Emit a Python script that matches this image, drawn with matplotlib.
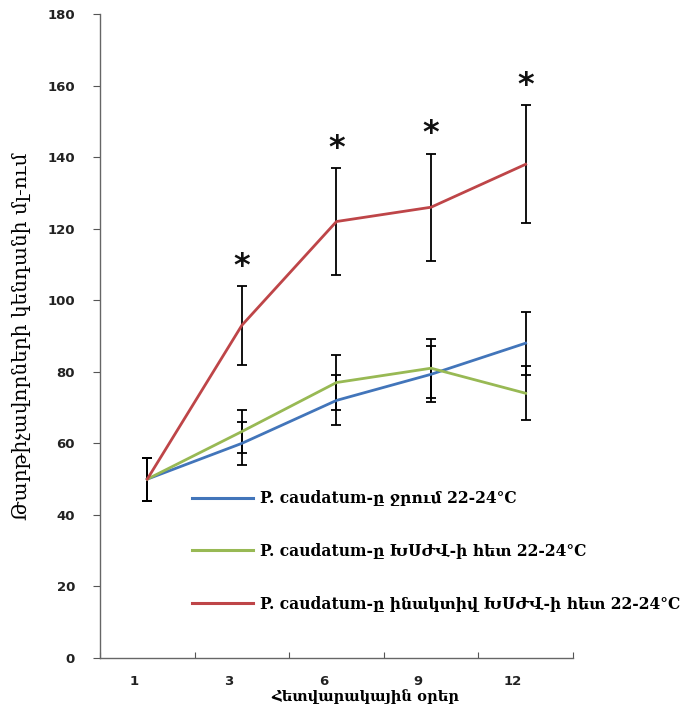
import numpy as np
import matplotlib.pyplot as plt
from matplotlib.lines import Line2D
from matplotlib.transforms import ScaledTranslation

days = ['1', '3', '6', '9', '12']

water = [50, 60, 72, 79.3, 88]
water_err = [6, 6, 7, 7.8, 8.8]

vip = [50, 63.3, 77, 81, 74]
vip_err = [6, 6, 7.8, 8.3, 7.5]

inact = [50, 93, 122, 126, 138]
inact_err = [6, 11, 15, 15, 16.5]

star_days = [1, 2, 3, 4]

labels = ['P. caudatum-ը ջրում 22-24°C',
          'P. caudatum-ը ԽՍԺՎ-ի հետ 22-24°C',
          'P. caudatum-ը ինակտիվ ԽՍԺՎ-ի հետ 22-24°C']
colors = ['#4275ba', '#98b954', '#be4548']

fig = plt.figure(figsize=(6.82, 7.15), dpi=100)
ax = fig.add_axes([0.1466, 0.0797, 0.6935, 0.9007])

x = np.arange(len(days))
series = [(water, water_err), (vip, vip_err), (inact, inact_err)]
handles = []
for (y, e), c, lab in zip(series, colors, labels):
    ax.errorbar(x, y, yerr=e, color=c, lw=2, ecolor='black', elinewidth=1.3,
                capsize=3.5, capthick=1.3, zorder=2)
    handles.append(Line2D([], [], color=c, lw=2.2, label=lab))

# significance stars above the inactivated series
for i in star_days:
    ax.text(x[i], inact[i] + inact_err[i] + 5.5, '*', ha='center', va='center',
            fontsize=23, fontweight='bold', color='#111111')

ax.set_xlim(-0.5, 4.5)
ax.set_ylim(0, 180)
ax.set_yticks(np.arange(0, 181, 20))
ax.set_xticks(np.arange(-0.5, 4.6, 1))
ax.set_xticklabels([])
ax.set_xticks(x, minor=True)
ax.set_xticklabels(days, minor=True)
ax.tick_params(axis='x', which='minor', length=0, pad=12)
ax.tick_params(axis='x', which='major', length=4, direction='in', color='#555555')
ax.tick_params(axis='y', length=5, direction='out', color='#555555', pad=13)
for lab in ax.get_xticklabels(minor=True):
    lab.set_transform(lab.get_transform() + ScaledTranslation(-0.13, 0, fig.dpi_scale_trans))
for lab in ax.get_xticklabels(minor=True) + ax.get_yticklabels():
    lab.set_fontweight('bold')
    lab.set_fontsize(9.5)
    lab.set_color('#222222')

for s in ['top', 'right']:
    ax.spines[s].set_visible(False)
for s in ['left', 'bottom']:
    ax.spines[s].set_color('#666666')
    ax.spines[s].set_linewidth(1.0)

ax.set_xlabel('Հետվարակային օրեր', family='DejaVu Serif', fontsize=10.5,
              fontweight='bold')
ax.xaxis.set_label_coords(0.56, -0.048)
ax.set_ylabel('Թարթիչավորների կենդանի մլ-ում', family='DejaVu Serif', fontsize=14.5)
ax.yaxis.set_label_coords(-0.145, 0.5)

leg = fig.legend(handles=handles, loc='upper left', bbox_to_anchor=(178 / 682, 1 - 476 / 715),
                 frameon=False, handlelength=3.9, handletextpad=0.5, labelspacing=2.3,
                 prop={'family': 'DejaVu Serif', 'weight': 'bold', 'size': 11.2})

fig.savefig('out.png', dpi=100, facecolor='white')
